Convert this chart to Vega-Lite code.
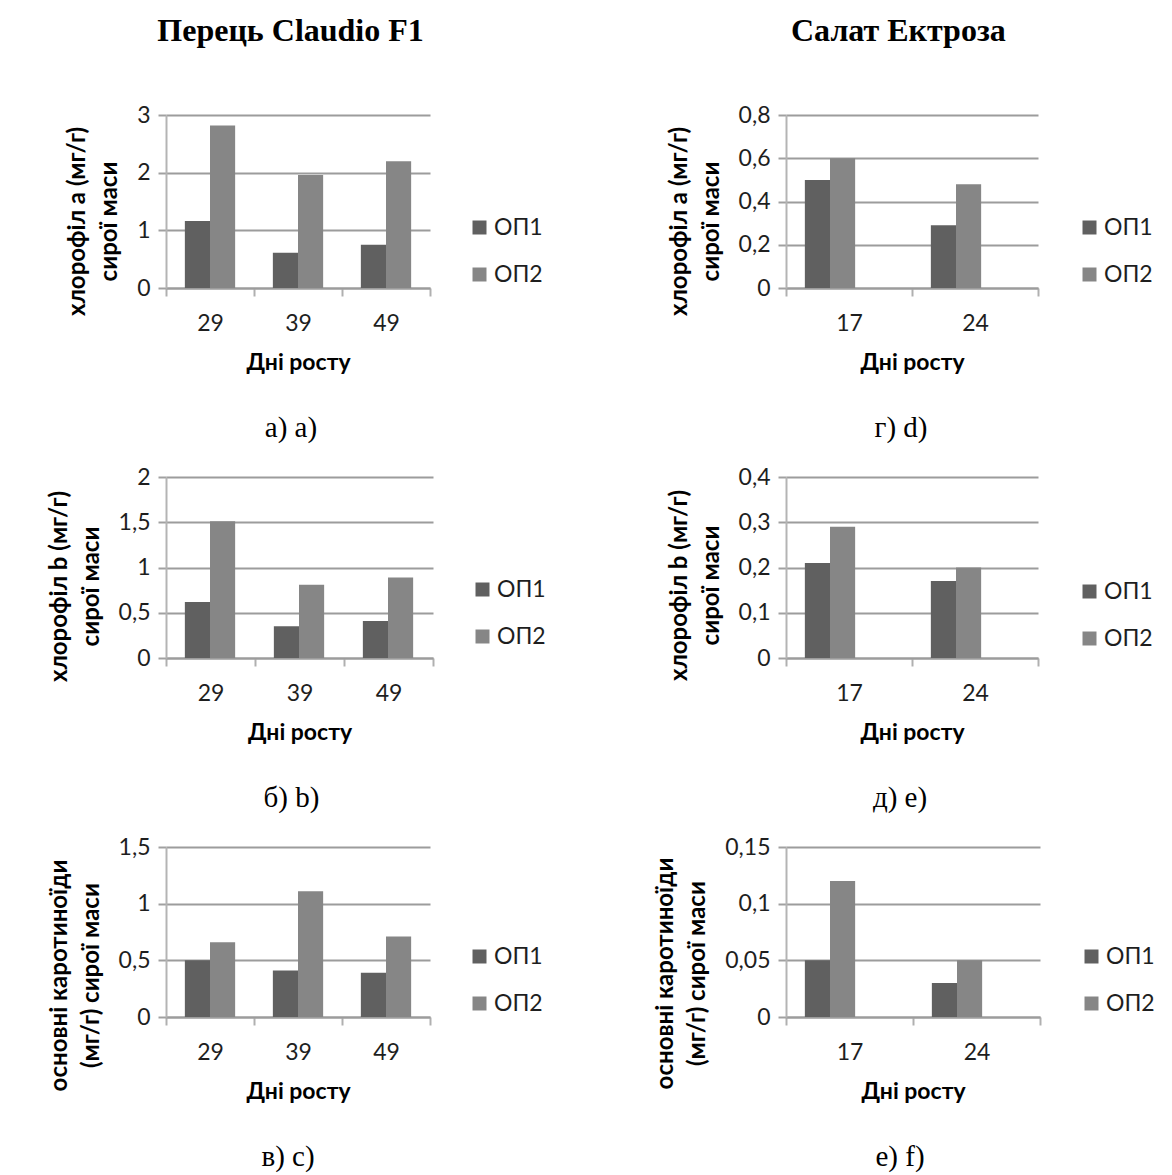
{
  "$schema": "https://vega.github.io/schema/vega-lite/v6.json",
  "background": "white",
  "padding": {"left": 47, "top": 15, "right": 5, "bottom": 5},
  "datasets": {
    "a": [
      {"day": "29", "series": "ОП1", "value": 1.16}, {"day": "29", "series": "ОП2", "value": 2.82},
      {"day": "39", "series": "ОП1", "value": 0.61}, {"day": "39", "series": "ОП2", "value": 1.96},
      {"day": "49", "series": "ОП1", "value": 0.75}, {"day": "49", "series": "ОП2", "value": 2.2}
    ],
    "b": [
      {"day": "29", "series": "ОП1", "value": 0.62}, {"day": "29", "series": "ОП2", "value": 1.51},
      {"day": "39", "series": "ОП1", "value": 0.35}, {"day": "39", "series": "ОП2", "value": 0.81},
      {"day": "49", "series": "ОП1", "value": 0.41}, {"day": "49", "series": "ОП2", "value": 0.89}
    ],
    "c": [
      {"day": "29", "series": "ОП1", "value": 0.5}, {"day": "29", "series": "ОП2", "value": 0.66},
      {"day": "39", "series": "ОП1", "value": 0.41}, {"day": "39", "series": "ОП2", "value": 1.11},
      {"day": "49", "series": "ОП1", "value": 0.39}, {"day": "49", "series": "ОП2", "value": 0.71}
    ],
    "d": [
      {"day": "17", "series": "ОП1", "value": 0.5}, {"day": "17", "series": "ОП2", "value": 0.6},
      {"day": "24", "series": "ОП1", "value": 0.29}, {"day": "24", "series": "ОП2", "value": 0.48}
    ],
    "e": [
      {"day": "17", "series": "ОП1", "value": 0.21}, {"day": "17", "series": "ОП2", "value": 0.29},
      {"day": "24", "series": "ОП1", "value": 0.17}, {"day": "24", "series": "ОП2", "value": 0.2}
    ],
    "f": [
      {"day": "17", "series": "ОП1", "value": 0.05}, {"day": "17", "series": "ОП2", "value": 0.12},
      {"day": "24", "series": "ОП1", "value": 0.03}, {"day": "24", "series": "ОП2", "value": 0.05}
    ]
  },
  "hconcat": [
    {
      "title": {"text": "Перець Claudio F1", "dx": -6},
      "spacing": 23,
      "resolve": {"scale": {"color": "independent"}},
      "vconcat": [
        {
          "width": 264, "height": 173,
          "title": {"text": "а) а)", "orient": "bottom", "frame": "group", "fontWeight": "normal", "fontSize": 29, "offset": 40, "dx": -7},
          "data": {"name": "a"},
          "mark": "bar",
          "encoding": {
            "x": {"field": "day", "type": "ordinal", "title": "Дні росту"},
            "xOffset": {"field": "series", "type": "nominal"},
            "y": {"field": "value", "type": "quantitative", "scale": {"domain": [0, 3]},
                  "axis": {"values": [0, 1, 2, 3], "titleY": 106, "title": ["хлорофіл а (мг/г)", "сирої маси"]}},
            "color": {"field": "series", "type": "nominal", "legend": {"legendX": 302}}
          }
        },
        {
          "width": 267, "height": 181,
          "title": {"text": "б) b)", "orient": "bottom", "frame": "group", "fontWeight": "normal", "fontSize": 29, "offset": 40, "dx": -8},
          "data": {"name": "b"},
          "mark": "bar",
          "encoding": {
            "x": {"field": "day", "type": "ordinal", "title": "Дні росту"},
            "xOffset": {"field": "series", "type": "nominal"},
            "y": {"field": "value", "type": "quantitative", "scale": {"domain": [0, 2]},
                  "axis": {"values": [0, 0.5, 1, 1.5, 2], "titleY": 109, "title": ["хлорофіл b (мг/г)", "сирої маси"]}},
            "color": {"field": "series", "type": "nominal", "legend": {"legendX": 305}}
          }
        },
        {
          "width": 264, "height": 170,
          "title": {"text": "в) c)", "orient": "bottom", "frame": "group", "fontWeight": "normal", "fontSize": 29, "offset": 40, "dx": -10},
          "data": {"name": "c"},
          "mark": "bar",
          "encoding": {
            "x": {"field": "day", "type": "ordinal", "title": "Дні росту"},
            "xOffset": {"field": "series", "type": "nominal"},
            "y": {"field": "value", "type": "quantitative", "scale": {"domain": [0, 1.5]},
                  "axis": {"values": [0, 0.5, 1, 1.5], "titleY": 128, "title": ["основні каротиноїди", "(мг/г) сирої маси"]}},
            "color": {"field": "series", "type": "nominal", "legend": {"legendX": 302, "legendY": 98}}
          }
        }
      ]
    },
    {
      "title": {"text": "Салат Ектроза", "dx": -6},
      "spacing": 23,
      "resolve": {"scale": {"color": "independent"}},
      "vconcat": [
        {
          "width": 252, "height": 173,
          "title": {"text": "г) d)", "orient": "bottom", "frame": "group", "fontWeight": "normal", "fontSize": 29, "offset": 40, "dx": -11},
          "data": {"name": "d"},
          "mark": "bar",
          "encoding": {
            "x": {"field": "day", "type": "ordinal", "title": "Дні росту"},
            "xOffset": {"field": "series", "type": "nominal"},
            "y": {"field": "value", "type": "quantitative", "scale": {"domain": [0, 0.8]},
                  "axis": {"values": [0, 0.2, 0.4, 0.6, 0.8], "titleY": 106, "title": ["хлорофіл а (мг/г)", "сирої маси"]}},
            "color": {"field": "series", "type": "nominal", "legend": {"legendX": 292}}
          }
        },
        {
          "width": 252, "height": 181,
          "title": {"text": "д) е)", "orient": "bottom", "frame": "group", "fontWeight": "normal", "fontSize": 29, "offset": 40, "dx": -12},
          "data": {"name": "e"},
          "mark": "bar",
          "encoding": {
            "x": {"field": "day", "type": "ordinal", "title": "Дні росту"},
            "xOffset": {"field": "series", "type": "nominal"},
            "y": {"field": "value", "type": "quantitative", "scale": {"domain": [0, 0.4]},
                  "axis": {"values": [0, 0.1, 0.2, 0.3, 0.4], "titleY": 108, "title": ["хлорофіл b (мг/г)", "сирої маси"]}},
            "color": {"field": "series", "type": "nominal", "legend": {"legendX": 292, "legendY": 103}}
          }
        },
        {
          "width": 254, "height": 170,
          "title": {"text": "е) f)", "orient": "bottom", "frame": "group", "fontWeight": "normal", "fontSize": 29, "offset": 40, "dx": -13},
          "data": {"name": "f"},
          "mark": "bar",
          "encoding": {
            "x": {"field": "day", "type": "ordinal", "title": "Дні росту"},
            "xOffset": {"field": "series", "type": "nominal"},
            "y": {"field": "value", "type": "quantitative", "scale": {"domain": [0, 0.15]},
                  "axis": {"values": [0, 0.05, 0.1, 0.15], "titleY": 126, "title": ["основні каротиноїди", "(мг/г) сирої маси"]}},
            "color": {"field": "series", "type": "nominal", "legend": {"legendX": 294, "legendY": 98}}
          }
        }
      ]
    }
  ],
  "spacing": 107,
  "resolve": {"scale": {"color": "independent"}},
  "config": {
    "view": {"stroke": null},
    "title": {"font": "Liberation Serif", "fontSize": 32, "fontWeight": "bold", "color": "#000", "anchor": "middle", "frame": "bounds", "offset": 56},
    "scale": {"bandPaddingInner": 0, "bandPaddingOuter": 0, "bandWithNestedOffsetPaddingInner": 0, "bandWithNestedOffsetPaddingOuter": 0, "offsetBandPaddingInner": 0, "offsetBandPaddingOuter": 0.75},
    "range": {"category": ["#606060", "#868686"]},
    "axis": {"labelFont": "Lato", "titleFont": "Lato", "labelColor": "#1e1e1e", "titleColor": "#000", "labelFontSize": 23, "titleFontSize": 23, "titleFontWeight": "bold"},
    "axisX": {"labelAngle": 0, "domainColor": "#9c9c9c", "domainWidth": 2, "tickColor": "#b0b0b0", "tickWidth": 2, "tickSize": 8, "tickBand": "extent", "labelPadding": 16, "titlePadding": 16, "grid": false},
    "axisY": {"titleFontSize": 24, "domainColor": "#b4b4b4", "domainWidth": 2, "tickColor": "#a0a0a0", "tickWidth": 2, "tickSize": 8, "gridColor": "#9c9c9c", "gridWidth": 2, "labelPadding": 8, "titlePadding": 15, "titleLineHeight": 32, "labelExpr": "replace(format(datum.value, '~g'), '.', ',')"},
    "legend": {"orient": "none", "title": null, "padding": 0, "symbolType": "square", "symbolSize": 196, "symbolStrokeWidth": 0, "labelFont": "Lato", "labelFontSize": 23, "labelColor": "#1e1e1e", "labelOffset": 3, "rowPadding": 23, "legendY": 101}
  }
}
